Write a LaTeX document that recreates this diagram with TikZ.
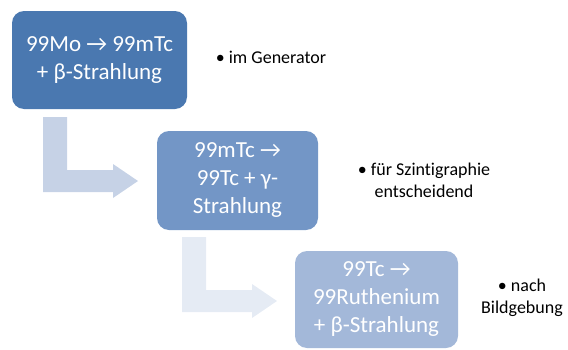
\documentclass[tikz,border=0pt]{standalone}
\usepackage{fontspec}
\setmainfont{Carlito}[Ligatures={NoCommon}]

\definecolor{stepA}{HTML}{4A78B0}
\definecolor{stepB}{HTML}{7396C6}
\definecolor{stepC}{HTML}{A3B8D9}
\definecolor{bentA}{HTML}{C6D2E6}
\definecolor{bentB}{HTML}{E5EBF4}

\tikzset{every picture/.style={line width=0.75pt}}
\tikzset{
  stepbox/.style={rounded corners=9pt, inner sep=0pt, text=white, align=center,
    font=\fontsize{17.25}{21}\selectfont},
  notetext/.style={align=center, text=black, font=\fontsize{13.5}{16.5}\selectfont}
}

\begin{document}
\begin{tikzpicture}[x=0.75pt,y=0.75pt,yscale=-1,xscale=1]
\useasboundingbox (0,0) rectangle (568,350); %set diagram size 568 x 350

%Shape: Bent Arrow [id:bent1]
\fill [bentA] (43,117) -- (67,117) -- (67,170) -- (113,170) -- (113,164) -- (138,181) -- (113,198) -- (113,192) -- (43,192) -- cycle ;
%Shape: Bent Arrow [id:bent2]
\fill [bentB] (182,237) -- (206,237) -- (206,290) -- (252,290) -- (252,284) -- (277,301) -- (252,318) -- (252,312) -- (182,312) -- cycle ;

%Shape: Rounded Rectangle [id:mo]
\node (mo) [stepbox, fill=stepA, minimum width=131.25pt, minimum height=73.5pt] at (99.5,60) {99Mo → 99mTc\\+ β-Strahlung};
%Shape: Rounded Rectangle [id:tcm]
\node (tcm) [stepbox, fill=stepB, minimum width=120.75pt, minimum height=74.25pt] at (237.5,180.5) {99mTc →\\99Tc + γ-\\Strahlung};
%Shape: Rounded Rectangle [id:tc]
\node (tc) [stepbox, fill=stepC, minimum width=122.25pt, minimum height=72.75pt] at (376.5,299.5) {99Tc →\\99Ruthenium\\+ β-Strahlung};

% Text Node
\node (gen) [notetext] at (271,57) {• im Generator};
% Text Node
\node (szin) [notetext] at (424,180) {• für Szintigraphie\\entscheidend};
% Text Node
\node (bild) [notetext] at (522,298) {• nach\\Bildgebung};

\end{tikzpicture}
\end{document}
